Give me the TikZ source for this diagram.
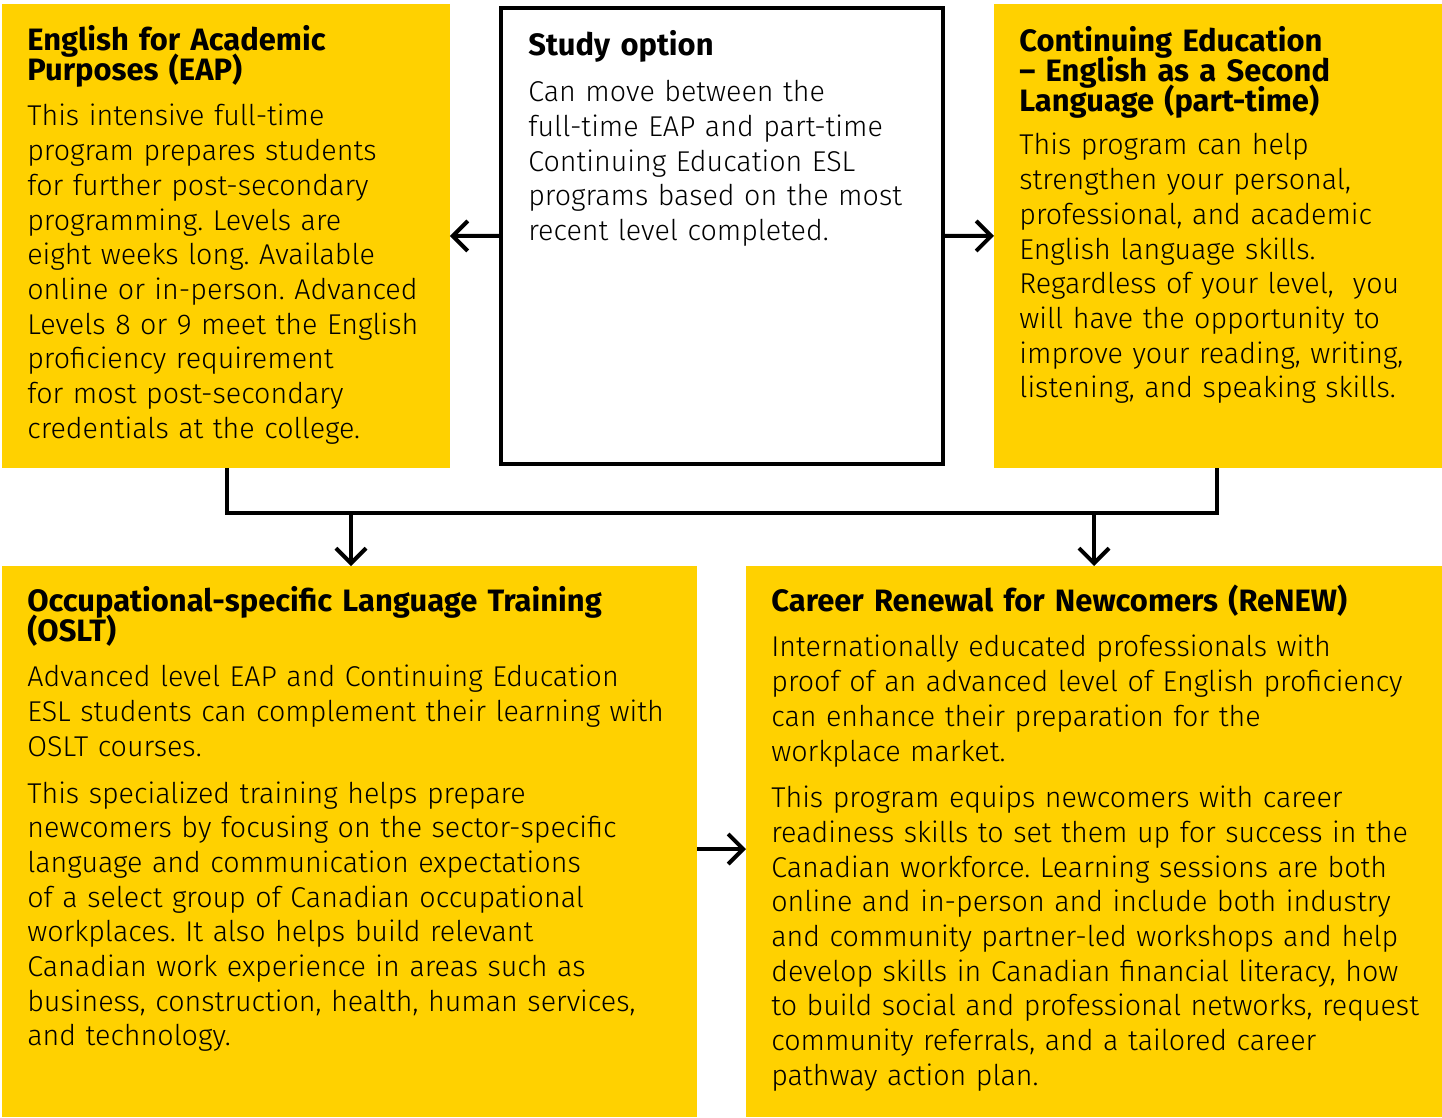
\documentclass[tikz,border=0pt]{standalone}
\usepackage{fontspec}
\setmainfont{Fira Sans}[UprightFont={* Light},BoldFont={* Bold}]
\usepackage{xcolor}
\usetikzlibrary{calc,arrows.meta}
\definecolor{progyellow}{HTML}{FFD100}
\frenchspacing
\setlength{\lineskiplimit}{-10pt}
\setlength{\normallineskiplimit}{-10pt}

\begin{document}
\begin{tikzpicture}[x=0.02cm,y=-0.02cm,
    panel/.style={fill=progyellow,inner sep=0pt,outer sep=0pt,anchor=north west},
    headtxt/.style={anchor=north west,inner sep=0pt,align=left,text width=#1,
      font=\bfseries\fontsize{17.6}{17.07}\selectfont,
      execute at begin node={\setlength{\baselineskip}{0.6cm}%
        \setlength{\lineskiplimit}{-10pt}}},
    headtxt/.default=8.6cm,
    bodytxt/.style={anchor=north west,inner sep=0pt,align=left,text width=#1,
      font=\fontsize{16.3}{19.75}\selectfont,
      execute at begin node={\setlength{\baselineskip}{0.694cm}%
        \setlength{\lineskiplimit}{-10pt}}},
    bodytxt/.default=8.6cm,
    link/.style={line width=0.08cm},
    arr/.style={link,-{Straight Barb[length=0.3cm,width=0.6cm]}}]
    \useasboundingbox (0,0) rectangle (1442,1117);

    % boxes
    \node[panel,minimum width=8.96cm,minimum height=9.28cm] (eap) at (2,4) {};
    \node[panel,fill=white,draw=black,line width=0.08cm,
      minimum width=8.84cm,minimum height=9.12cm] (study) at (501,8) {};
    \node[panel,minimum width=8.96cm,minimum height=9.28cm] (cel) at (994,4) {};
    \node[panel,minimum width=13.9cm,minimum height=11.02cm] (oslt) at (2,566) {};
    \node[panel,minimum width=13.92cm,minimum height=11.02cm] (renew) at (746,566) {};

    % texts
    \node[headtxt] (eaphead) at (27,25.5) {English for Academic\\Purposes (EAP)};
    \node[bodytxt] (eapbody) at (27,104) {This intensive full-time\\
      program prepares students\\for further post-secondary\\
      programming. Levels are\\eight weeks long. Available\\
      online or in-person. Advanced\\Levels 8 or 9 meet the English\\
      proficiency requirement\\for most post-secondary\\
      credentials at the college.};

    \node[headtxt] (studyhead) at (528,30) {Study option};
    \node[bodytxt] (studybody) at (528,80) {Can move between the\\
      full-time EAP and part-time\\Continuing Education ESL\\
      programs based on the most\\recent level completed.};

    \node[headtxt] (celhead) at (1019,26) {Continuing Education\\
      -- English as a Second\\Language (part-time)};
    \node[bodytxt] (celbody) at (1019,133) {This program can help\\
      strengthen your personal,\\professional, and academic\\
      English language skills.\\Regardless of your level,~ you\\
      will have the opportunity to\\improve your reading, writing,\\
      listening, and speaking skills.};

    \node[headtxt=13cm] (oslthead) at (27,586)
      {Occupational-specific Language Training\\(OSLT)};
    \node[bodytxt=13cm] (osltbody) at (27,665)
      {Advanced level EAP and Continuing Education\\
      ESL students can complement their learning with\\
      OSLT courses.\\[0.24cm]
      This specialized training helps prepare\\
      newcomers by focusing on the sector-specific\\
      language and communication expectations\\
      of a select group of Canadian occupational\\
      workplaces. It also helps build relevant\\
      Canadian work experience in areas such as\\
      business, construction, health, human services,\\
      and technology.};

    \node[headtxt=13cm] (renewhead) at (771,585)
      {Career Renewal for Newcomers (ReNEW)};
    \node[bodytxt=13.4cm] (renewbody) at (771,635)
      {Internationally educated professionals with\\
      proof of an advanced level of English proficiency\\
      can enhance their preparation for the\\
      workplace market.\\[0.24cm]
      This program equips newcomers with career\\
      readiness skills to set them up for success in the\\
      Canadian workforce. Learning sessions are both\\
      online and in-person and include both industry\\
      and community partner-led workshops and help\\
      develop skills in Canadian financial literacy, how\\
      to build social and professional networks, request\\
      community referrals, and a tailored career\\
      pathway action plan.};

    % connectors
    \draw[arr] (study.west) -- (eap.east);
    \draw[arr] (study.east) -- (cel.west);
    \coordinate (jl) at (227,513);
    \coordinate (jr) at (1217,513);
    \draw[link] (eap.south -| jl) -- (jl) -- (jr) -- (cel.south -| jr);
    \coordinate (dl) at (351,513);
    \coordinate (dr) at (1094,513);
    \draw[arr] (dl) -- (dl |- oslt.north);
    \draw[arr] (dr) -- (dr |- renew.north);
    \coordinate (mo) at (697,849);
    \draw[arr] (mo) -- (mo -| renew.west);
  \end{tikzpicture}
\end{document}
